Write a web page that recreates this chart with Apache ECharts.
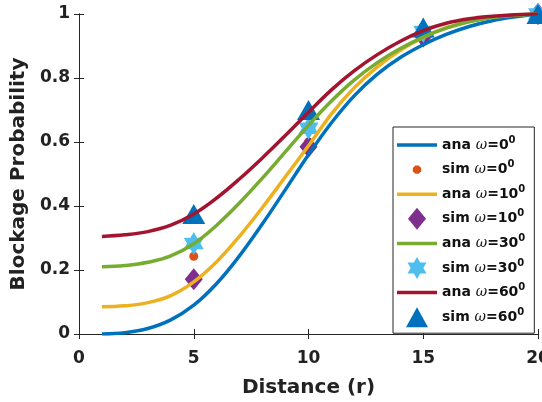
<!DOCTYPE html>
<html>
<head>
<meta charset="utf-8">
<script src="https://cdn.jsdelivr.net/npm/echarts@6/dist/echarts.min.js"></script>
<style>
html, body { margin: 0; padding: 0; background: #fff; }
#chart { width: 542px; height: 402px; }
</style>
</head>
<body>
<div id="chart"></div>
<script>
// analytic curves, x = 1..20
const distance = [1, 2, 3, 4, 5, 6, 7, 8, 9, 10, 11, 12, 13, 14, 15, 16, 17, 18, 19, 20];
const ana0 = [0, 0.004, 0.017, 0.044, 0.09, 0.158, 0.245, 0.345, 0.452, 0.56, 0.66, 0.745, 0.812, 0.864, 0.904, 0.936, 0.961, 0.979, 0.991, 1];
const ana10 = [0.085, 0.088, 0.098, 0.12, 0.163, 0.226, 0.306, 0.396, 0.492, 0.588, 0.688, 0.77, 0.835, 0.887, 0.927, 0.957, 0.977, 0.99, 0.997, 1];
const ana30 = [0.21, 0.214, 0.224, 0.244, 0.282, 0.34, 0.41, 0.488, 0.57, 0.652, 0.728, 0.794, 0.848, 0.892, 0.928, 0.956, 0.976, 0.989, 0.996, 1];
const ana60 = [0.305, 0.31, 0.32, 0.34, 0.375, 0.425, 0.485, 0.551, 0.621, 0.693, 0.763, 0.823, 0.873, 0.915, 0.948, 0.971, 0.985, 0.993, 0.998, 1];

// simulation points
const simX = [5, 10, 15, 20];
const sim0 = [0.243, 0.6, 0.93, 1];
const sim10 = [0.171, 0.585, 0.93, 1];
const sim30 = [0.283, 0.643, 0.945, 1];
const sim60 = [0.375, 0.70, 0.958, 1];

const names = ['ana ω=0', 'sim ω=0', 'ana ω=10', 'sim ω=10', 'ana ω=30', 'sim ω=30', 'ana ω=60', 'sim ω=60'];

const hexagram = 'path://M100 0L128.87 50L186.6 50L157.7 100L186.6 150L128.87 150L100 200L71.13 150L13.4 150L42.3 100L13.4 50L71.13 50Z';

// legend icons drawn in a 40x22 box (the first two moveTo points hold the box size)
const box = 'path://M0 0M40 22';
const lineIcon = box + 'M0 9.25L40 9.25L40 12.75L0 12.75Z';
const dotIcon = box + 'M24.16 12.72L21.72 15.16L18.28 15.16L15.84 12.72L15.84 9.28L18.28 6.84L21.72 6.84L24.16 9.28Z';
const diamondIcon = box + 'M20 0L29 11L20 22L11 11Z';
const starIcon = box + 'M20 0L23.18 5.5L29.53 5.5L26.35 11L29.53 16.5L23.18 16.5L20 22L16.82 16.5L10.47 16.5L13.65 11L10.47 5.5L16.82 5.5Z';
const triangleIcon = box + 'M20 1L31 21L9 21Z';

function pairs(xs, ys) {
	return xs.map(function (x, i) { return [x, ys[i]]; });
}

function anaLine(name, ys, color) {
	return {
		name: name,
		type: 'line',
		data: pairs(distance, ys),
		symbol: 'none',
		smooth: 0.4,
		lineStyle: { color: color, width: 3.5 },
		itemStyle: { color: color }
	};
}

function simPoints(name, ys, color, symbol, size) {
	return {
		name: name,
		type: 'scatter',
		data: pairs(simX, ys),
		symbol: symbol,
		symbolSize: size,
		itemStyle: { color: color, opacity: 1 }
	};
}

const axisColor = '#262626';
const font = 'DejaVu Sans';

let chart = echarts.init(document.getElementById('chart'));

option = {
	animation: false,
	backgroundColor: '#fff',
	grid: { left: 79, right: 4, top: 14, bottom: 68, containLabel: false, outerBoundsMode: 'none' },
	xAxis: [{
		type: 'value',
		min: 0,
		max: 20,
		interval: 5,
		name: 'Distance (r)',
		nameLocation: 'middle',
		nameGap: 44,
		nameTextStyle: { fontFamily: font, fontWeight: 'bold', fontSize: 20, color: '#222' },
		axisLine: { lineStyle: { color: axisColor, width: 1 } },
		axisTick: { inside: true, length: 5, lineStyle: { color: axisColor } },
		axisLabel: { margin: 16, fontFamily: font, fontWeight: 'bold', fontSize: 17, color: '#222' },
		splitLine: { show: false }
	}, {
		type: 'value',
		position: 'top',
		min: 0,
		max: 20,
		interval: 5,
		axisLine: { lineStyle: { color: axisColor, width: 1 } },
		axisTick: { inside: true, length: 5, lineStyle: { color: axisColor } },
		axisLabel: { show: false },
		splitLine: { show: false }
	}],
	yAxis: [{
		type: 'value',
		min: 0,
		max: 1,
		interval: 0.2,
		name: 'Blockage Probability',
		nameLocation: 'middle',
		nameGap: 41,
		nameTextStyle: { fontFamily: font, fontWeight: 'bold', fontSize: 20, color: '#222' },
		axisLine: { show: true, lineStyle: { color: axisColor, width: 1 } },
		axisTick: { show: true, inside: true, length: 5, lineStyle: { color: axisColor } },
		axisLabel: { margin: 9, fontFamily: font, fontWeight: 'bold', fontSize: 17, color: '#222' },
		splitLine: { show: false }
	}, {
		type: 'value',
		position: 'right',
		min: 0,
		max: 1,
		interval: 0.2,
		axisLine: { show: true, lineStyle: { color: axisColor, width: 1 } },
		axisTick: { show: true, inside: true, length: 5, lineStyle: { color: axisColor } },
		axisLabel: { show: false },
		splitLine: { show: false }
	}],
	legend: {
		orient: 'vertical',
		left: 393,
		top: 127,
		padding: [7, 9, 5, 4],
		itemWidth: 40,
		itemHeight: 22,
		itemGap: 2.6,
		backgroundColor: '#fff',
		borderColor: axisColor,
		borderWidth: 1,
		borderRadius: 0,
		data: [
			{ name: names[0], icon: lineIcon },
			{ name: names[1], icon: dotIcon },
			{ name: names[2], icon: lineIcon },
			{ name: names[3], icon: diamondIcon },
			{ name: names[4], icon: lineIcon },
			{ name: names[5], icon: starIcon },
			{ name: names[6], icon: lineIcon },
			{ name: names[7], icon: triangleIcon }
		],
		formatter: function (name) {
			let p = name.split('ω');
			return p[0] + '{w|ω}' + p[1] + '{s|0}';
		},
		textStyle: {
			fontFamily: font,
			fontWeight: 'bold',
			fontSize: 14,
			color: '#111',
			rich: {
				w: { fontFamily: 'DejaVu Serif', fontStyle: 'italic', fontWeight: 'normal', fontSize: 14, color: '#111' },
				s: { fontFamily: font, fontWeight: 'bold', fontSize: 10, color: '#111', padding: [0, 0, 10, 0] }
			}
		}
	},
	series: [
		anaLine(names[0], ana0, '#0072BD'),
		simPoints(names[1], sim0, '#D95319', 'circle', 9),
		anaLine(names[2], ana10, '#EDB120'),
		simPoints(names[3], sim10, '#7E2F8E', 'diamond', [18, 22]),
		anaLine(names[4], ana30, '#77AC30'),
		simPoints(names[5], sim30, '#4DBEEE', hexagram, [20, 23]),
		anaLine(names[6], ana60, '#A2142F'),
		simPoints(names[7], sim60, '#0072BD', 'triangle', [23, 20])
	]
};

chart.setOption(option, true);
</script>
</body>
</html>
